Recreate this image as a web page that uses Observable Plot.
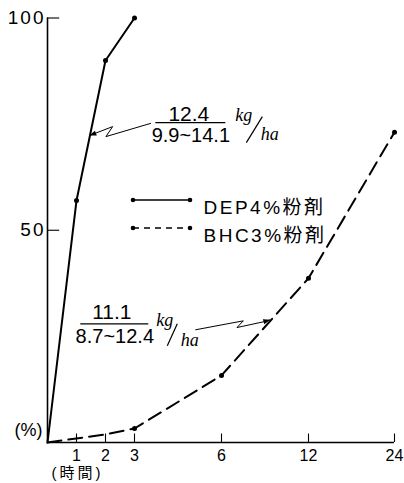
<!DOCTYPE html>
<html><head><meta charset="utf-8">
<script src="https://cdn.jsdelivr.net/npm/d3@7"></script>
<script src="https://cdn.jsdelivr.net/npm/@observablehq/plot@0.6"></script>
<style>
html,body{margin:0;padding:0;background:#fff}
svg{display:block}
</style>
</head><body><div id="chart"></div>
<script>
// ---- data ----
const hoursDEP = [0, 1, 2, 3];
const valuesDEP = [0, 57, 90, 100];
const hoursBHC = [0, 2, 3, 6, 12, 24];
const valuesBHC = [0, 1.9, 3.3, 15.8, 38.7, 73.1];
const seriesNames = ["DEP4%粉剤", "BHC3%粉剤"];
const xTicks = [1, 2, 3, 6, 12, 24];
const yTicks = [50, 100];
const xBreaks = [0, 3, 6, 12, 24];
const doseLabels = ["12.4", "11.1"];
const rangeLabels = ["9.9~14.1", "8.7~12.4"];
const leaderHours = [1.46, 9.4];
const unitTop = "kg", unitBottom = "ha";
const yUnit = "(%)", xUnit = "(時間)";

// ---- layout (pixels) ----
const L = {
  xRange: [47, 134, 221, 308, 394],
  yRange: [442, 17.5],
  legendX: 133, legendLen: 57, legendRows: [200, 228], legendTextX: 203
};

const depAt = d3.scaleLinear(hoursDEP, valuesDEP);
const bhcAt = d3.scaleLinear(hoursBHC, valuesBHC);
const targets = [
  {hour: leaderHours[0], value: depAt(leaderHours[0])},
  {hour: leaderHours[1], value: bhcAt(leaderHours[1])}
];
const dep = hoursDEP.map((h, i) => ({hour: h, value: valuesDEP[i]}));
const bhc = hoursBHC.map((h, i) => ({hour: h, value: valuesBHC[i]}));
const legendItems = seriesNames.map((name, i) => ({name, row: i}));

const NUM = "'Liberation Sans Narrow', 'Liberation Sans', sans-serif";
const SANS = "'Liberation Sans', 'Noto Sans CJK JP', sans-serif";
const SERIF = "'Liberation Serif', 'DejaVu Serif', serif";

function decorations(index, scales) {
  const {x, y} = scales;
  const g = d3.create("svg:g").attr("fill", "none").attr("stroke", "black");
  const T = targets.map(t => [x(t.hour), y(t.value)]);
  const shapes = [
    {pts: [[61.6, -12.3], [16.6, 1], [23.3, -9], [0, 0]],
     bar: [66, 136, -13], slash: [[157, 7], [173, -19]]},
    {pts: [[-75, 10], [-27, 1], [-33.3, 7.7], [-7, 2], [0, 0]],
     bar: [-190, -122, 4], slash: [[-103, 26], [-93, 4]]}
  ];
  shapes.forEach((s, i) => {
    const [tx, ty] = T[i];
    g.append("path")
      .attr("d", d3.line()(s.pts.map(([dx, dy]) => [tx + dx, ty + dy])))
      .attr("stroke-width", 1);
    const [px, py] = s.pts[s.pts.length - 2];
    const len = Math.hypot(px, py), ux = px / len, uy = py / len;
    const bx = tx + ux * 7, by = ty + uy * 7;
    g.append("path")
      .attr("d", `M${tx},${ty}L${bx - uy * 2.6},${by + ux * 2.6}L${bx + uy * 2.6},${by - ux * 2.6}Z`)
      .attr("fill", "black").attr("stroke", "none");
    g.append("line")
      .attr("x1", tx + s.bar[0]).attr("x2", tx + s.bar[1])
      .attr("y1", ty + s.bar[2]).attr("y2", ty + s.bar[2])
      .attr("stroke-width", 1.3);
    g.append("line")
      .attr("x1", tx + s.slash[0][0]).attr("y1", ty + s.slash[0][1])
      .attr("x2", tx + s.slash[1][0]).attr("y2", ty + s.slash[1][1])
      .attr("stroke-width", 1.2);
  });
  L.legendRows.forEach((ry, i) => {
    g.append("line")
      .attr("x1", L.legendX).attr("x2", L.legendX + L.legendLen)
      .attr("y1", ry).attr("y2", ry)
      .attr("stroke-width", 1.6)
      .attr("stroke-dasharray", i === 1 ? "6,5" : null);
    [L.legendX, L.legendX + L.legendLen].forEach(cx =>
      g.append("circle").attr("cx", cx).attr("cy", ry).attr("r", 2.3)
        .attr("fill", "black").attr("stroke", "none"));
  });
  return g.node();
}

const chart = Plot.plot({
  width: 404, height: 483, margin: 0,
  style: {background: "#fff", overflow: "visible"},
  x: {type: "linear", domain: xBreaks, range: L.xRange, axis: null},
  y: {domain: [0, 100], range: L.yRange, axis: null},
  marks: [
    Plot.ruleY([0], {x1: 0, x2: 24, strokeWidth: 1.6}),
    Plot.ruleX([0], {y1: 0, y2: 100, strokeWidth: 1.6}),
    Plot.ruleX(xTicks, {x: d => d, y1: 0, y2: 2, strokeWidth: 1.1}),
    Plot.ruleY(yTicks, {y: d => d, x1: 0, x2: 0.42, strokeWidth: 1.1}),
    Plot.text(xTicks, {x: d => d, y: 0, dy: 13, text: d => String(d), fontSize: 16, fontFamily: NUM}),
    Plot.text(yTicks, {x: 0, y: d => d, dx: -4, textAnchor: "end", text: d => String(d), fontSize: 19, fontFamily: SANS}),
    Plot.text([yUnit], {x: 0, y: 0, dx: -19, dy: -12, text: d => d, fontSize: 18, fontFamily: SANS}),
    Plot.text([xUnit], {x: 0, y: 0, dx: 30, dy: 31, text: d => d, fontSize: 15, fontFamily: SANS}),
    Plot.line(dep, {x: "hour", y: "value", stroke: "black", strokeWidth: 2}),
    Plot.line(bhc, {x: "hour", y: "value", stroke: "black", strokeWidth: 2, strokeDasharray: "14,7"}),
    Plot.dot(dep.filter(d => d.hour > 0), {x: "hour", y: "value", r: 2.5, fill: "black"}),
    Plot.dot(bhc.filter(d => d.hour >= 3), {x: "hour", y: "value", r: 2.5, fill: "black"}),
    decorations,
    Plot.text([doseLabels[0]], {x: () => targets[0].hour, y: () => targets[0].value, dx: 99, dy: -22, text: d => d, fontSize: 21, fontFamily: NUM}),
    Plot.text([rangeLabels[0]], {x: () => targets[0].hour, y: () => targets[0].value, dx: 101, dy: -1, text: d => d, fontSize: 20, fontFamily: NUM}),
    Plot.text([unitTop], {x: () => targets[0].hour, y: () => targets[0].value, dx: 154, dy: -21, text: d => d, fontSize: 18, fontStyle: "italic", fontFamily: SERIF}),
    Plot.text([unitBottom], {x: () => targets[0].hour, y: () => targets[0].value, dx: 180, dy: -2, text: d => d, fontSize: 18, fontStyle: "italic", fontFamily: SERIF}),
    Plot.text([doseLabels[1]], {x: () => targets[1].hour, y: () => targets[1].value, dx: -159, dy: -8, text: d => d, fontSize: 21, fontFamily: NUM}),
    Plot.text([rangeLabels[1]], {x: () => targets[1].hour, y: () => targets[1].value, dx: -156, dy: 16, text: d => d, fontSize: 20, fontFamily: NUM}),
    Plot.text([unitTop], {x: () => targets[1].hour, y: () => targets[1].value, dx: -106, dy: 0, text: d => d, fontSize: 18, fontStyle: "italic", fontFamily: SERIF}),
    Plot.text([unitBottom], {x: () => targets[1].hour, y: () => targets[1].value, dx: -81, dy: 20, text: d => d, fontSize: 18, fontStyle: "italic", fontFamily: SERIF}),
    Plot.text([legendItems[0]], {frameAnchor: "top-left", dx: L.legendTextX, dy: L.legendRows[0], text: "name", textAnchor: "start", fontSize: 19, fontFamily: SANS}),
    Plot.text([legendItems[1]], {frameAnchor: "top-left", dx: L.legendTextX, dy: L.legendRows[1], text: "name", textAnchor: "start", fontSize: 19, fontFamily: SANS})
  ]
});
document.getElementById("chart").appendChild(chart);

const svg = d3.select(chart);
svg.selectAll("text").each(function() {
  const t = d3.select(this), s = t.text();
  if (seriesNames.includes(s)) t.attr("letter-spacing", 2.5);
  if (yTicks.map(String).includes(s)) t.attr("letter-spacing", 2).attr("dx", 2);
  if (s === xUnit) t.attr("letter-spacing", 3);
});
</script>
</body></html>
